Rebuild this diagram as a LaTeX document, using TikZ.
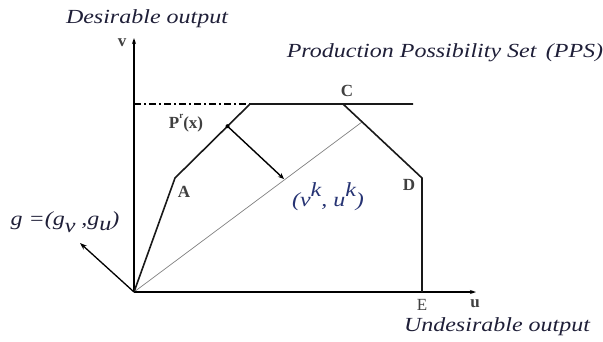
\documentclass[tikz,border=0pt]{standalone}
\usepackage{fontspec}
\setmainfont{Liberation Serif}
\newfontfamily\tf[FakeStretch=1.2]{Liberation Serif}
\usetikzlibrary{arrows.meta,calc}
\definecolor{txt}{rgb}{0.12,0.12,0.22}
\definecolor{blu}{rgb}{0.15,0.2,0.45}
\begin{document}
\begin{tikzpicture}[x=1pt,y=-1pt,
  axis/.style={line width=1.6pt,black},
  front/.style={line width=1.6pt,black!90},
  title/.style={font=\tf\fontsize{20}{20}\selectfont\itshape,text=txt,inner sep=0pt},
  ptlabel/.style={font=\fontsize{17}{17}\selectfont\bfseries,text=black!75,inner sep=0pt},
  dotpt/.style={circle,fill=black,inner sep=0pt,minimum size=4pt}]
\useasboundingbox (0,0) rectangle (603,341);
% points
\coordinate (O) at (134,292);
\coordinate (vtop) at (134,38);
\coordinate (uend) at (476,292);
\coordinate (A) at (175,178);
\coordinate (B) at (250,104);
\coordinate (C) at (343,104);
\coordinate (H) at (413,104);
\coordinate (D) at (422,178);
\coordinate (E) at (422,292);
\coordinate (P) at ($(A)!0.7!(B)$);
\coordinate (V) at (284,179);
\coordinate (Gend) at (362,122);
\coordinate (G) at (80,243);
% gray ray
\draw[gray,line width=0.7pt] (O) -- (Gend);
% axes
\draw[axis,-{Stealth[length=6pt,width=4pt]}] (O) -- (vtop);
\draw[axis,-{Stealth[length=6pt,width=4pt]}] (O) -- (uend);
% dash-dot
\draw[line width=1.6pt,dash pattern=on 7pt off 3pt on 2pt off 3pt] (O |- B) -- (B);
% frontier
\draw[front,line join=miter] (O) -- (A) -- (B) -- (H);
\draw[front] (C) -- (D) -- (E);
% projection
\draw[line width=1.4pt,-{Stealth[length=6pt,width=5pt]}] (P) -- (V);
\node[dotpt] (Pd) at (P) {};
% g arrow
\draw[line width=1.3pt,-{Stealth[length=7pt,width=5pt]}] (O) -- (G);
% labels
\node[title] (t1) at (147,19) {Desirable output};
\node[title] (t2) at (445,53) {Production Possibility Set\, (PPS)};
\node[title] (t3) at (497,327) {Undesirable output};
\node[ptlabel] (lv) at (122,43) {v};
\node[ptlabel] (lu) at (475,304) {u};
\node[ptlabel,font=\fontsize{17}{17}\selectfont] (lE) at (422,305) {E};
\node[ptlabel] (lD) at (409,185) {D};
\node[ptlabel] (lC) at (347,91) {C};
\node[ptlabel] (lA) at (184,192) {A};
\node[ptlabel] (lP) at (186,123) {P\raisebox{1.2ex}{\fontsize{9}{9}\selectfont r}(x)};
\node[title,text=blu] (lV) at (328,197) {(v\raisebox{1.1ex}{k}, u\raisebox{1.1ex}{k})};
\node[title] (lg) at (65,222) {g =(g\raisebox{-0.7ex}{v} ,g\raisebox{-0.5ex}{u})};
\end{tikzpicture}
\end{document}
